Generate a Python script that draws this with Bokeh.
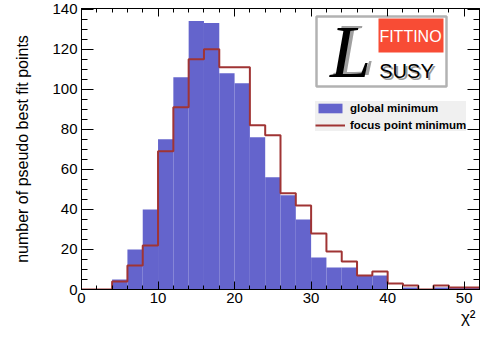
from bokeh.plotting import figure
from bokeh.models import (SingleIntervalTicker, LinearAxis, Legend, LegendItem,
                          Label, BoxAnnotation, Range1d, Title, CustomJSTickFormatter)
from bokeh.embed import file_html
from bokeh.resources import INLINE

# ---- data (chi^2 histograms, bin width 2) ----
bin_edges = list(range(0, 54, 2))
global_minimum = [0, 0, 5, 20, 40, 75, 106, 134, 133, 108, 103, 76, 56, 47,
                  35, 16, 11, 11, 7, 7, 0, 1, 0, 1, 1, 1]
focus_point_minimum = [0, 0, 4, 12, 22, 69, 91, 115, 120, 111, 111, 82, 77, 48,
                       42, 28, 19, 14, 7, 9, 3, 2, 0, 2, 1, 1]
x_ticks_interval = 10
y_ticks_interval = 20

FONT = "Liberation Sans"
BLUE = "#6464cc"
RED = "#a03434"

p = figure(width=480, height=329, x_range=Range1d(0, 52), y_range=Range1d(0, 140.3),
           output_backend="svg", toolbar_location=None,
           min_border_left=81, min_border_right=1, min_border_top=8, min_border_bottom=40)
p.grid.visible = False
p.outline_line_color = "black"
p.outline_line_width = 1
p.background_fill_color = "white"
p.border_fill_color = "white"

q = p.quad(left=bin_edges[:-1], right=bin_edges[1:], bottom=0, top=global_minimum,
           fill_color=BLUE, line_color=None)
s = p.step(x=bin_edges[:-1] + [bin_edges[-1]], y=focus_point_minimum + [focus_point_minimum[-1]],
           mode="after", line_color=RED, line_width=2)

xt = SingleIntervalTicker(interval=x_ticks_interval, num_minor_ticks=5)
yt = SingleIntervalTicker(interval=y_ticks_interval, num_minor_ticks=4)

def style_axis(ax, tin, tmin, labels=True):
    ax.major_tick_in = tin
    ax.major_tick_out = 0
    ax.minor_tick_in = tmin
    ax.minor_tick_out = 0
    ax.axis_line_color = "black"
    ax.major_tick_line_color = "black"
    ax.minor_tick_line_color = "black"
    ax.major_label_text_font = FONT
    ax.major_label_text_font_size = "15px"
    ax.major_label_text_color = "black"
    if not labels:
        ax.formatter = CustomJSTickFormatter(code="return ''")
        ax.major_label_standoff = 0

xa = p.xaxis[0]
xa.ticker = xt
style_axis(xa, 8, 4)
xa.major_label_standoff = 3

ya = p.yaxis[0]
ya.ticker = yt
style_axis(ya, 12, 6)
ya.major_label_standoff = 4
ya.axis_label = "number of pseudo best fit points"
ya.axis_label_text_font = FONT
ya.axis_label_text_font_size = "16px"
ya.axis_label_text_font_style = "normal"
ya.axis_label_text_color = "black"
ya.axis_label_standoff = 18

top_ax = LinearAxis(ticker=xt)
style_axis(top_ax, 8, 4, labels=False)
p.add_layout(top_ax, "above")
right_ax = LinearAxis(ticker=yt)
style_axis(right_ax, 12, 6, labels=False)
p.add_layout(right_ax, "right")

# x-axis title at the right end, below the axis
p.add_layout(Title(text="χ²", align="right", text_font=FONT, text_font_size="17px",
                   text_font_style="normal", text_color="black", standoff=0, offset=4),
             "below")

# ---- logo ----
p.add_layout(BoxAnnotation(left=235, right=365, top=273, bottom=203,
                           left_units="screen", right_units="screen",
                           top_units="screen", bottom_units="screen",
                           fill_color="white", fill_alpha=1,
                           line_color="black", line_width=2.5, level="overlay"))
p.add_layout(BoxAnnotation(left=297, right=362, top=271, bottom=237,
                           left_units="screen", right_units="screen",
                           top_units="screen", bottom_units="screen",
                           fill_color="#f84c35", fill_alpha=1,
                           line_color=None, level="overlay"))
p.add_layout(Label(x=329, y=253, x_units="screen", y_units="screen", text="FITTINO",
                   text_align="center", text_baseline="middle", text_color="white",
                   text_font=FONT, text_font_size="16px", level="overlay"))
p.add_layout(Label(x=327, y=217, x_units="screen", y_units="screen", text="SUSY",
                   text_align="center", text_baseline="middle", text_color="#9a9a9a",
                   text_font=FONT, text_font_size="20px", level="overlay"))
p.add_layout(Label(x=325, y=219, x_units="screen", y_units="screen", text="SUSY",
                   text_align="center", text_baseline="middle", text_color="black",
                   text_font=FONT, text_font_size="20px", level="overlay"))
p.add_layout(Label(x=273, y=240, x_units="screen", y_units="screen", text="L",
                   text_align="center", text_baseline="middle", text_color="#a0a0a0",
                   text_font="Liberation Serif", text_font_style="italic",
                   text_font_size="74px", level="overlay"))
p.add_layout(Label(x=269, y=238, x_units="screen", y_units="screen", text="L",
                   text_align="center", text_baseline="middle", text_color="black",
                   text_font="Liberation Serif", text_font_style="italic",
                   text_font_size="74px", level="overlay"))

# ---- legend ----
legend = Legend(items=[LegendItem(label="global minimum", renderers=[q]),
                       LegendItem(label="focus point minimum", renderers=[s])],
                location=(234, 158), background_fill_color="#f0f0f0", background_fill_alpha=1,
                border_line_color=None, label_text_font=FONT, label_text_font_size="11.5px",
                label_text_font_style="bold", label_text_color="black",
                glyph_width=30, glyph_height=12, label_height=13, spacing=4,
                padding=4, margin=0, label_standoff=5)
p.add_layout(legend)

open("out.html", "w").write(file_html(p, INLINE))
